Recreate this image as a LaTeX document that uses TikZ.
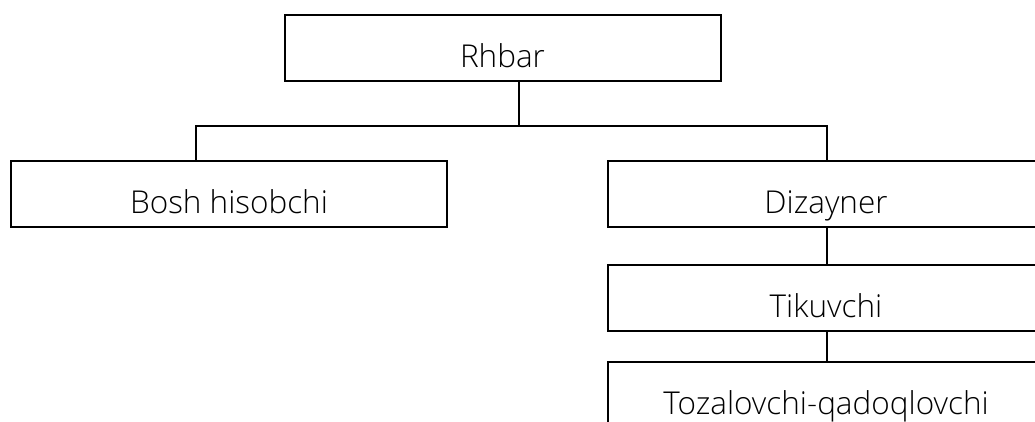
\documentclass[tikz,border=0pt]{standalone}
\usepackage{fontspec}
\setmainfont{Open Sans Light}
\usetikzlibrary{calc}
\begin{document}
\begin{tikzpicture}[x=1pt,y=-1pt,
  post/.style={draw=black,line width=2pt,minimum width=436pt,minimum height=66pt,
    inner sep=0pt,text height=39pt,text depth=0pt,
    font=\fontsize{31.5}{36}\selectfont,text=black},
  link/.style={draw=black,line width=2pt}]
  \useasboundingbox (0,0) rectangle (1035,421);
  \clip (0,0) rectangle (1035,421);
  \node[post] (rh) at (502.5,47.5) {Rhbar};
  \node[post] (bh) at (229,194) {Bosh hisobchi};
  \node[post] (dz) at (826,194) {Dizayner};
  \node[post] (tk) at (826,298) {Tikuvchi};
  \node[post] (tq) at (826,395) {Tozalovchi-qadoqlovchi};
  \coordinate (bus) at (519,126);
  \draw[link] ($(rh.south)+(16.5,0)$) -- (bus);
  \draw[link] ($(bh.north)+(-33,0)$) |- (bus) -| ($(dz.north)+(1,0)$);
  \draw[link] ($(dz.south)+(1,0)$) -- ($(tk.north)+(1,0)$);
  \draw[link] ($(tk.south)+(1,0)$) -- ($(tq.north)+(1,0)$);
\end{tikzpicture}
\end{document}
